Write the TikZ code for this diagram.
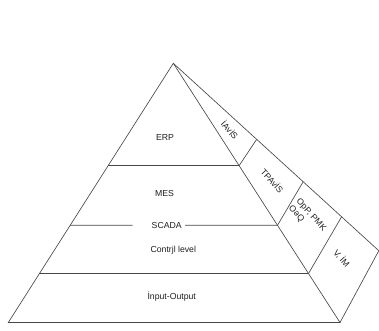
\documentclass[tikz,border=0pt]{standalone}
\usepackage{fontspec}
\setmainfont{Liberation Sans}
\usetikzlibrary{calc}
\begin{document}
\begin{tikzpicture}[x=1bp,y=-1bp,
  edge/.style={draw=black!72,line width=0.65bp},
  lbl/.style={text=black!88,inner sep=0pt,font=\fontsize{8.7bp}{10.2bp}\selectfont},
  slbl/.style={lbl,rotate=-48}]
\useasboundingbox (0,0) rectangle (379,331);
\coordinate (A) at (173.3,63.3);
\coordinate (BL) at (8.3,322.5);
\coordinate (BR) at (340,322.5);
\coordinate (C) at (378.8,250.7);
% left points
\coordinate (L1) at ($(A)!0.395!(BL)$);
\coordinate (L2) at ($(A)!0.625!(BL)$);
\coordinate (L3) at ($(A)!0.811!(BL)$);
% right (inner) points
\coordinate (R1) at ($(A)!0.395!(BR)$);
\coordinate (R2) at ($(A)!0.625!(BR)$);
\coordinate (R3) at ($(A)!0.811!(BR)$);
% outer points
\coordinate (O1) at ($(A)!0.4056!(C)$);
\coordinate (O2) at ($(A)!0.632!(C)$);
\coordinate (O3) at ($(A)!0.819!(C)$);
\coordinate (S1) at (132.7,225.3);
\coordinate (S2) at (185,225.3);
% pyramid
\draw[edge] (A) -- (BL) -- (BR) -- cycle;
\draw[edge] (A) -- (C) -- (BR);
\draw[edge] (L1) -- (R1);
\draw[edge] (L2) -- (S1);
\draw[edge] (S2) -- (R2);
\draw[edge] (L3) -- (R3);
\draw[edge] (R1) -- (O1);
\draw[edge] (R2) -- (O2);
\draw[edge] (R3) -- (O3);
% labels
\node[lbl] (erp) at (165,137.5) {ERP};
\node[lbl] (mes) at (164.5,193.3) {MES};
\node[lbl] (scada) at (166.7,225.3) {SCADA};
\node[lbl] (ctl) at (173.3,250) {Contrjl level};
\node[lbl] (io) at (171.7,296.5) {İnput-Output};
\node[slbl] (s1) at (230,130) {İAvİS};
\node[slbl] (s2) at (272.5,180.5) {TPAvİS};
\node[slbl,align=left] (s3) at (307.3,218.6) {OpP, PMK\\OəQ};
\node[slbl] (s4) at (341.7,258.3) {V, İM};
\end{tikzpicture}
\end{document}
